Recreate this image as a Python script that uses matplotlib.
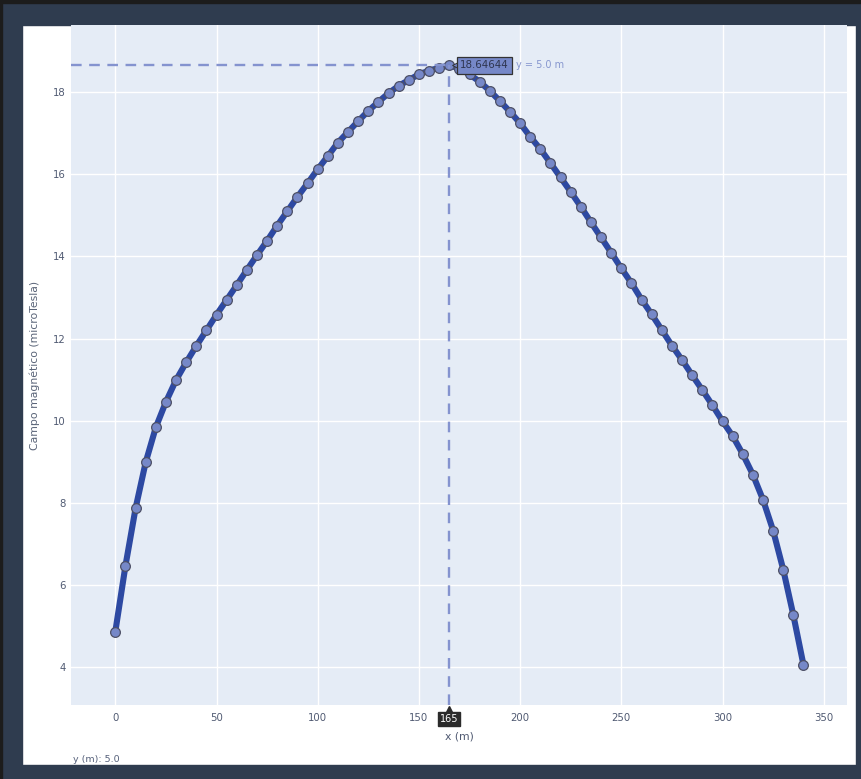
import matplotlib
matplotlib.use("Agg")
import matplotlib.pyplot as plt
import matplotlib.transforms as mtransforms
from matplotlib.patches import Rectangle

# Horizontal position along the line (m) and field magnitude at height y = 5.0 m (microTesla)
x_m = list(range(0, 345, 5))
campo_uT = [
    4.87, 6.47, 7.87, 8.99, 9.84, 10.46, 10.99, 11.42, 11.82, 12.20,
    12.58, 12.94, 13.30, 13.67, 14.03, 14.38, 14.75, 15.10, 15.45, 15.78,
    16.12, 16.44, 16.77, 17.03, 17.29, 17.54, 17.76, 17.97, 18.15, 18.29,
    18.43, 18.52, 18.59, 18.64644, 18.57, 18.43, 18.25, 18.03, 17.78, 17.52,
    17.24, 16.91, 16.61, 16.27, 15.92, 15.57, 15.21, 14.83, 14.46, 14.09,
    13.71, 13.35, 12.95, 12.59, 12.21, 11.83, 11.48, 11.11, 10.75, 10.38,
    9.99, 9.63, 9.19, 8.69, 8.08, 7.33, 6.38, 5.27, 4.06,
]
altura_label = "y = 5.0 m"
slider_label = "y (m): 5.0"
hover_x = 165
x_ticks = [0, 50, 100, 150, 200, 250, 300, 350]
y_ticks = [4, 6, 8, 10, 12, 14, 16, 18]

plt.rcParams["font.family"] = ["DejaVu Sans"]

W, H = 861, 779
fig = plt.figure(figsize=(W / 100, H / 100), dpi=100)
fig.patch.set_facecolor("white")

# dark frame around the white page
frame = "#2f3c4f"
fig.patches.append(Rectangle((0, 0), 1, 14 / H, transform=fig.transFigure, color=frame, zorder=-5))
fig.patches.append(Rectangle((0, 1 - 25 / H), 1, 25 / H, transform=fig.transFigure, color=frame, zorder=-5))
fig.patches.append(Rectangle((0, 0), 22 / W, 1, transform=fig.transFigure, color=frame, zorder=-5))
fig.patches.append(Rectangle((1 - 5 / W, 0), 5 / W, 1, transform=fig.transFigure, color=frame, zorder=-5))
fig.patches.append(Rectangle((0, 1 - 3 / H), 1, 3 / H, transform=fig.transFigure, color="#1c1c1c", zorder=-4))
fig.patches.append(Rectangle((0, 0), 2 / W, 1, transform=fig.transFigure, color="#1c1c1c", zorder=-4))

left, right, top, bottom = 71, 847, 25, 705
ax = fig.add_axes([left / W, 1 - bottom / H, (right - left) / W, (bottom - top) / H])
ax.set_facecolor("#E5ECF6")
for s in ax.spines.values():
    s.set_visible(False)
ax.set_xlim(-21.9, 361.5)
ax.set_ylim(3.085, 19.63)
ax.set_xticks(x_ticks)
ax.set_yticks(y_ticks)
ax.grid(True, color="white", linewidth=1.0)
ax.set_axisbelow(True)
ax.tick_params(length=0, labelsize=7.3, colors="#505a72", pad=4)
ax.tick_params(axis="x", pad=6)
ax.set_xlabel("x (m)", fontsize=7.8, color="#505a72", labelpad=6)
ax.set_ylabel("Campo magnético (microTesla)", fontsize=7.8, color="#5a6478", labelpad=9)

line_color = "#2d49a2"
marker_face = "#7688c8"
spike_color = "#8493cf"

ax.plot(x_m, campo_uT, color=line_color, linewidth=4.4, zorder=3, solid_capstyle="round")
ax.plot(x_m, campo_uT, linestyle="none", marker="o", markersize=7.0,
        markerfacecolor=marker_face, markeredgecolor="#4d5066", markeredgewidth=0.9, zorder=4)

# hover spikes at the selected point
i = x_m.index(hover_x)
yv = campo_uT[i]
ax.plot([ax.get_xlim()[0], hover_x], [yv, yv], color=spike_color, linewidth=1.7,
        dashes=(4.5, 3.2), zorder=5)
ax.plot([hover_x, hover_x], [ax.get_ylim()[0], yv], color=spike_color, linewidth=1.7,
        dashes=(4.5, 3.2), zorder=5)

# hover label with value and trace name
tri = mtransforms.offset_copy(ax.transData, fig=fig, x=4.8, y=0, units="points")
ax.plot([hover_x], [yv], marker="<", markersize=6, color=marker_face,
        markeredgecolor="#333333", markeredgewidth=0.7, transform=tri, zorder=6)
ax.annotate(f"{yv:.5f}", xy=(hover_x, yv), xytext=(7.5, 0), textcoords="offset points",
            ha="left", va="center", fontsize=7.4, color="#2e3550", zorder=7,
            bbox=dict(boxstyle="square,pad=0.3", fc=marker_face, ec="#333333", lw=0.9))
ax.annotate(altura_label, xy=(hover_x, yv), xytext=(48, 0), textcoords="offset points",
            ha="left", va="center", fontsize=7.0, color="#8797cf", zorder=7)

# x spike label under the axis
ax.annotate(str(hover_x), xy=(hover_x, 0), xycoords=("data", "axes fraction"),
            xytext=(0, -10), textcoords="offset points", ha="center", va="center",
            fontsize=7.0, color="white", zorder=7, annotation_clip=False,
            bbox=dict(boxstyle="square,pad=0.2", fc="#2b2b2b", ec="#2b2b2b"))
ax.plot([hover_x], [0], marker="^", markersize=4, color="#2b2b2b",
        transform=mtransforms.offset_copy(ax.get_xaxis_transform(), fig=fig, x=0, y=-3, units="points"),
        clip_on=False, zorder=7)

fig.text(73 / W, 1 - 759 / H, slider_label, fontsize=6.8, color="#55607a", va="center", ha="left")

fig.savefig("out.png", dpi=100)
